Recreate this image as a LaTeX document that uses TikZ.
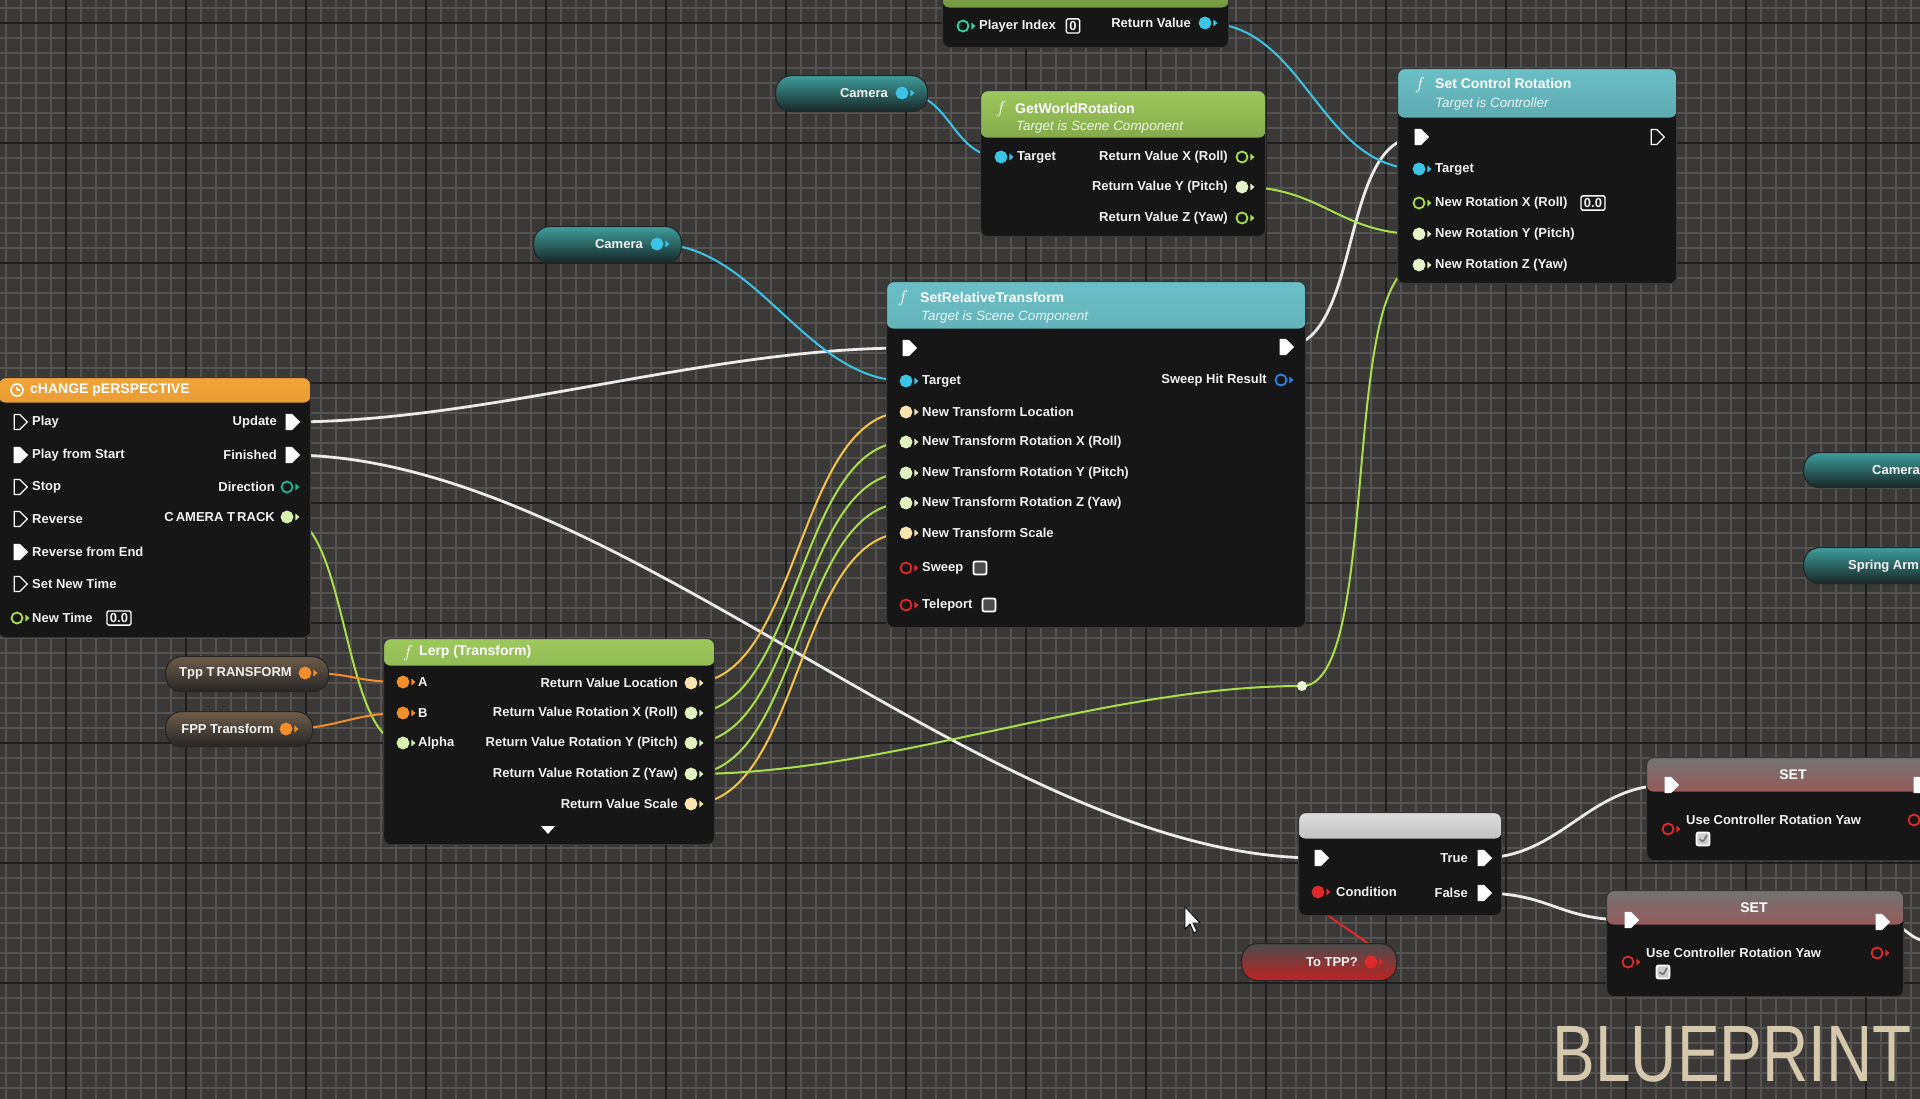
\documentclass[tikz,border=0pt]{standalone}
\usepackage{fontspec}
\setmainfont{Liberation Sans}
\newfontfamily\bpfont[FakeStretch=0.8]{Liberation Sans}
\usetikzlibrary{shapes.symbols}
\pgfdeclarelayer{grid}
\pgfdeclarelayer{wires}
\pgfsetlayers{grid,wires,main}
\definecolor{bggrey}{HTML}{3A3938}
\definecolor{gridfine}{HTML}{55534F}
\definecolor{gridmajor}{HTML}{1E1E1E}
\definecolor{nodebg}{HTML}{161616}
\definecolor{cobj}{HTML}{3CC4E6}
\definecolor{cflt}{HTML}{A9DF4C}
\definecolor{cvec}{HTML}{F3C54A}
\definecolor{ctrf}{HTML}{F28E2B}
\definecolor{cbool}{HTML}{E02A2A}
\definecolor{chit}{HTML}{2C84E4}
\definecolor{cdir}{HTML}{1DB398}
\definecolor{cint}{HTML}{2FD6A2}
\definecolor{hdorange}{HTML}{F29A22}
\definecolor{hdgreen}{HTML}{92C24A}
\definecolor{hdteal}{HTML}{5BB8C0}
\definecolor{hdred}{HTML}{E02828}
\definecolor{camteal}{HTML}{3E9E9C}
\definecolor{vardark}{HTML}{182626}
\definecolor{varbrown}{HTML}{6E5C4A}
\definecolor{bpbeige}{HTML}{D5C8AC}
\tikzset{
  every picture/.style={line width=1pt},
  bnode/.style 2 args={draw=white!22!black, line width=1.2pt, fill=nodebg, rounded corners=7pt,
    anchor=north west, inner sep=0pt,
    path picture={\shade[top color=#1!90!white, bottom color=#1!55!black]
      (path picture bounding box.north west) rectangle ([yshift=-#2pt]path picture bounding box.north east);}},
  setnode/.style={bnode={hdred}{34}, path picture={\shade[top color=black!55, bottom color=hdred]
      (path picture bounding box.north west) rectangle ([yshift=-34pt]path picture bounding box.north east);}},
  varpill/.style 2 args={draw=black!85, line width=1.2pt, rounded corners=16pt, anchor=north west,
    inner sep=0pt, top color=#1, bottom color=#2},
  epin/.style={signal, signal to=east, draw=white, fill=white, line width=1.3pt,
    minimum width=13pt, minimum height=15pt, inner sep=0pt},
  epinoff/.style={epin, fill=nodebg},
  dpin/.style={circle, draw=#1, fill=#1, line width=1.8pt, minimum size=11pt, inner sep=0pt,
    append after command={\pgfextra{\fill[#1] ([xshift=2pt,yshift=3.5pt]\tikzlastnode.east)
      -- ++(4pt,-3.5pt) -- ++(-4pt,-3.5pt) -- cycle;}}},
  dpinoff/.style={dpin=#1, fill=nodebg},
  lbl/.style={font=\fontsize{13}{15}\selectfont\bfseries, text=white!95!black, inner sep=0pt},
  lblin/.style={lbl, anchor=west},
  lblout/.style={lbl, anchor=east},
  ttl/.style={font=\fontsize{14}{16}\selectfont\bfseries, text=white, anchor=west, inner sep=0pt},
  subttl/.style={font=\fontsize{13.5}{15}\selectfont\itshape, text=#1, anchor=west, inner sep=0pt},
  fsym/.style={font=\fontsize{19}{19}\selectfont, text=white, inner sep=0pt},
  valbox/.style={lbl, draw=white, line width=1.3pt, rounded corners=1.5pt, inner xsep=3pt, inner ysep=2.5pt},
  chkbox/.style={draw=white, line width=1.8pt, fill=black!70, rounded corners=2pt, minimum size=13pt, inner sep=0pt},
  chkon/.style={chkbox, fill=white!80!black, path picture={\draw[black!55, line width=1.6pt]
      ([xshift=-3.5pt]path picture bounding box.center) -- ([yshift=-3pt]path picture bounding box.center)
      -- ([xshift=4pt,yshift=4pt]path picture bounding box.center);}},
  clock/.style={circle, draw=white, line width=1.6pt, minimum size=12pt, inner sep=0pt,
    path picture={\draw[white, line width=1.3pt] (path picture bounding box.center) -- ++(0pt,3.5pt)
      (path picture bounding box.center) -- ++(3pt,0pt);}},
  knot/.style={circle, fill=white!75!cflt, minimum size=10pt, inner sep=0pt},
  wire/.style={draw=#1, line width=2pt, line cap=round},
  xwire/.style={wire=white!92!black, line width=2.8pt},
}

\begin{document}
\begin{tikzpicture}[x=1pt, y=-1pt]
  \useasboundingbox (0,0) rectangle (1920,1099);
  \begin{pgfonlayer}{grid}
    \fill[bggrey] (0,0) rectangle (1920,1099);
    \foreach \gx in {6,21,...,1920} \draw[gridfine, line width=1.2pt] (\gx,0) -- (\gx,1099);
    \foreach \gy in {8,23,...,1099} \draw[gridfine, line width=1.2pt] (0,\gy) -- (1920,\gy);
    \foreach \gx in {66,186,...,1920} \draw[gridmajor, line width=1.8pt] (\gx,0) -- (\gx,1099);
    \foreach \gy in {23,143,...,1099} \draw[gridmajor, line width=1.8pt] (0,\gy) -- (1920,\gy);
  \end{pgfonlayer}

  % timeline
  \node[bnode={hdorange}{25}, minimum width=312pt, minimum height=260pt] (tl) at (-2,377) {};
  \node[clock] (tl-icon) at (17,390) {};
  \node[ttl] (tl-t) at (30,390) {cHANGE pERSPECTIVE};
  \node[epinoff] (tl-play) at (17,422) {};
  \node[lblin] (tl-play-l) at (32,422) {Play};
  \node[epin] (tl-pfs) at (17,455) {};
  \node[lblin] (tl-pfs-l) at (32,455) {Play from Start};
  \node[epinoff] (tl-stop) at (17,487) {};
  \node[lblin] (tl-stop-l) at (32,487) {Stop};
  \node[epinoff] (tl-rev) at (17,519) {};
  \node[lblin] (tl-rev-l) at (32,519) {Reverse};
  \node[epin] (tl-rfe) at (17,552) {};
  \node[lblin] (tl-rfe-l) at (32,552) {Reverse from End};
  \node[epinoff] (tl-snt) at (17,584) {};
  \node[lblin] (tl-snt-l) at (32,584) {Set New Time};
  \node[dpinoff=cflt] (tl-nt) at (17,618) {};
  \node[lblin] (tl-nt-l) at (32,618) {New Time};
  \node[valbox] (tl-nt-v) at (119,618) {0.0};
  \node[epin] (tl-upd) at (289,422) {};
  \node[lblout] (tl-upd-l) at (277,422) {Update};
  \node[epin] (tl-fin) at (289,455) {};
  \node[lblout] (tl-fin-l) at (277,455) {Finished};
  \node[dpinoff=cdir] (tl-dir) at (287,487) {};
  \node[lblout] (tl-dir-l) at (275,487) {Direction};
  \node[dpin={cflt!45!white}] (tl-track) at (287,517) {};
  \node[lblout] (tl-track-l) at (275,517) {C\,AMERA T\,RACK};
  \coordinate (tl-in1) at (-20,455);
  \coordinate (tl-in2) at (-20,552);

  % transform variables
  \node[varpill={varbrown}{black!85}, minimum width=163pt, minimum height=35pt] (tpp) at (165,656) {};
  \node[lblout] (tpp-l) at (292,673) {Tpp T\,RANSFORM};
  \node[dpin=ctrf] (tpp-o) at (305,673) {};
  \node[varpill={varbrown}{black!85}, minimum width=147pt, minimum height=35pt] (fpp) at (165,711) {};
  \node[lblout] (fpp-l) at (274,729) {FPP Transform};
  \node[dpin=ctrf] (fpp-o) at (286,729) {};

  % lerp
  \node[bnode={hdgreen}{27}, minimum width=331pt, minimum height=206pt] (lerp) at (383,638) {};
  \node[fsym] (lerp-f) at (408,653) {$f$};
  \node[ttl] (lerp-t) at (419,652) {Lerp (Transform)};
  \node[dpin=ctrf] (lerp-a) at (403,682) {};
  \node[lblin] (lerp-a-l) at (418,682) {A};
  \node[dpin=ctrf] (lerp-b) at (403,713) {};
  \node[lblin] (lerp-b-l) at (418,713) {B};
  \node[dpin={cflt!45!white}] (lerp-alpha) at (403,743) {};
  \node[lblin] (lerp-alpha-l) at (418,743) {Alpha};
  \node[dpin={cvec!45!white}] (lerp-loc) at (691,683) {};
  \node[lblout] (lerp-loc-l) at (678,683) {Return Value Location};
  \node[dpin={cflt!35!white}] (lerp-rx) at (691,713) {};
  \node[lblout] (lerp-rx-l) at (678,713) {Return Value Rotation X (Roll)};
  \node[dpin={cflt!35!white}] (lerp-ry) at (691,743) {};
  \node[lblout] (lerp-ry-l) at (678,743) {Return Value Rotation Y (Pitch)};
  \node[dpin={cflt!35!white}] (lerp-rz) at (691,774) {};
  \node[lblout] (lerp-rz-l) at (678,774) {Return Value Rotation Z (Yaw)};
  \node[dpin={cvec!45!white}] (lerp-scl) at (691,804) {};
  \node[lblout] (lerp-scl-l) at (678,804) {Return Value Scale};
  \fill[white] (541,826) -- (555,826) -- (548,834) -- cycle;

  % camera references
  \node[varpill={camteal}{vardark}, minimum width=148pt, minimum height=36pt] (cam-b) at (533,226) {};
  \node[lblout] (cam-b-l) at (643,244) {Camera};
  \node[dpin=cobj] (cam-b-o) at (657,244) {};
  \node[varpill={camteal}{vardark}, minimum width=152pt, minimum height=36pt] (cam-a) at (775,75) {};
  \node[lblout] (cam-a-l) at (888,93) {Camera};
  \node[dpin=cobj] (cam-a-o) at (902,93) {};
  \node[varpill={camteal}{vardark}, minimum width=160pt, minimum height=35pt] (cam-c) at (1803,452) {};
  \node[lblin] (cam-c-l) at (1872,470) {Camera};
  \node[varpill={camteal}{vardark}, minimum width=160pt, minimum height=36pt] (spring) at (1803,547) {};
  \node[lblin] (spring-l) at (1848,566) {Spring Arm};

  % player controller
  \node[bnode={hdgreen}{47}, minimum width=286pt, minimum height=87pt] (pidx) at (942,-40) {};
  \node[dpinoff=cint] (pidx-in) at (963,26) {};
  \node[lblin] (pidx-in-l) at (979,26) {Player Index};
  \node[valbox] (pidx-v) at (1073,26) {0};
  \node[lblout] (pidx-ret-l) at (1191,23) {Return Value};
  \node[dpin=cobj] (pidx-ret) at (1205,23) {};

  % get world rotation
  \node[bnode={hdgreen}{47}, minimum width=285pt, minimum height=146pt] (gwr) at (980,90) {};
  \node[fsym] (gwr-f) at (1001,109) {$f$};
  \node[ttl] (gwr-t) at (1015,108) {GetWorldRotation};
  \node[subttl=white!85!hdgreen] (gwr-s) at (1016,127) {Target is Scene Component};
  \node[dpin=cobj] (gwr-tgt) at (1001,157) {};
  \node[lblin] (gwr-tgt-l) at (1017,157) {Target};
  \node[dpinoff=cflt] (gwr-x) at (1242,157) {};
  \node[lblout] (gwr-x-l) at (1228,157) {Return Value X (Roll)};
  \node[dpin={cflt!30!white}] (gwr-y) at (1242,187) {};
  \node[lblout] (gwr-y-l) at (1228,187) {Return Value Y (Pitch)};
  \node[dpinoff=cflt] (gwr-z) at (1242,218) {};
  \node[lblout] (gwr-z-l) at (1228,218) {Return Value Z (Yaw)};

  % set control rotation
  \node[bnode={hdteal}{49}, minimum width=279pt, minimum height=215pt] (scr) at (1397,68) {};
  \node[fsym] (scr-f) at (1420,85) {$f$};
  \node[ttl] (scr-t) at (1435,83) {Set Control Rotation};
  \node[subttl=white!85!hdteal] (scr-s) at (1435,104) {Target is Controller};
  \node[epin] (scr-ein) at (1418,137) {};
  \node[epinoff] (scr-eout) at (1654,137) {};
  \node[dpin=cobj] (scr-tgt) at (1419,169) {};
  \node[lblin] (scr-tgt-l) at (1435,169) {Target};
  \node[dpinoff=cflt] (scr-x) at (1419,203) {};
  \node[lblin] (scr-x-l) at (1435,203) {New Rotation X (Roll)};
  \node[valbox] (scr-x-v) at (1593,203) {0.0};
  \node[dpin={cflt!30!white}] (scr-y) at (1419,234) {};
  \node[lblin] (scr-y-l) at (1435,234) {New Rotation Y (Pitch)};
  \node[dpin={cflt!30!white}] (scr-z) at (1419,265) {};
  \node[lblin] (scr-z-l) at (1435,265) {New Rotation Z (Yaw)};

  % set relative transform
  \node[bnode={hdteal}{47}, minimum width=419pt, minimum height=346pt] (srt) at (886,281) {};
  \node[fsym] (srt-f) at (903,298) {$f$};
  \node[ttl] (srt-t) at (920,297) {SetRelativeTransform};
  \node[subttl=white!85!hdteal] (srt-s) at (921,317) {Target is Scene Component};
  \node[epin] (srt-ein) at (906,348) {};
  \node[epin] (srt-eout) at (1283,347) {};
  \node[dpin=cobj] (srt-tgt) at (906,381) {};
  \node[lblin] (srt-tgt-l) at (922,381) {Target};
  \node[dpinoff=chit] (srt-hit) at (1281,380) {};
  \node[lblout] (srt-hit-l) at (1267,380) {Sweep Hit Result};
  \node[dpin={cvec!45!white}] (srt-loc) at (906,412) {};
  \node[lblin] (srt-loc-l) at (922,412) {New Transform Location};
  \node[dpin={cflt!35!white}] (srt-rx) at (906,442) {};
  \node[lblin] (srt-rx-l) at (922,442) {New Transform Rotation X (Roll)};
  \node[dpin={cflt!35!white}] (srt-ry) at (906,473) {};
  \node[lblin] (srt-ry-l) at (922,473) {New Transform Rotation Y (Pitch)};
  \node[dpin={cflt!35!white}] (srt-rz) at (906,503) {};
  \node[lblin] (srt-rz-l) at (922,503) {New Transform Rotation Z (Yaw)};
  \node[dpin={cvec!45!white}] (srt-scl) at (906,533) {};
  \node[lblin] (srt-scl-l) at (922,533) {New Transform Scale};
  \node[dpinoff=cbool] (srt-swp) at (906,568) {};
  \node[lblin] (srt-swp-l) at (922,568) {Sweep};
  \node[chkbox] (srt-swp-c) at (980,568) {};
  \node[dpinoff=cbool] (srt-tel) at (906,605) {};
  \node[lblin] (srt-tel-l) at (922,605) {Teleport};
  \node[chkbox] (srt-tel-c) at (989,605) {};

  % branch
  \node[bnode={white!85!black}{26}, minimum width=203pt, minimum height=103pt] (br) at (1298,812) {};
  \node[epin] (br-ein) at (1318,858) {};
  \node[epin] (br-true) at (1481,858) {};
  \node[lblout] (br-true-l) at (1468,858) {True};
  \node[dpin=cbool] (br-cond) at (1318,892) {};
  \node[lblin] (br-cond-l) at (1336,892) {Condition};
  \node[epin] (br-false) at (1481,893) {};
  \node[lblout] (br-false-l) at (1468,893) {False};
  \node[varpill={black!70}{hdred!85!black}, minimum width=155pt, minimum height=37pt] (totpp) at (1241,943) {};
  \node[lblout] (totpp-l) at (1358,962) {To TPP?};
  \node[dpin=cbool] (totpp-o) at (1371,962) {};

  % set nodes
  \node[setnode, minimum width=300pt, minimum height=103pt] (seta) at (1646,757) {};
  \node[ttl, anchor=center] (seta-t) at (1793,775) {SET};
  \node[epin] (seta-ein) at (1668,785) {};
  \node[epin] (seta-eout) at (1917,785) {};
  \node[lblin] (seta-l) at (1686,820) {Use Controller Rotation Yaw};
  \node[dpinoff=cbool] (seta-in) at (1668,829) {};
  \node[chkon] (seta-c) at (1703,839) {};
  \node[dpinoff=cbool] (seta-out) at (1914,820) {};
  \node[setnode, minimum width=297pt, minimum height=106pt] (setb) at (1606,890) {};
  \node[ttl, anchor=center] (setb-t) at (1754,908) {SET};
  \node[epin] (setb-ein) at (1628,920) {};
  \node[epin] (setb-eout) at (1879,922) {};
  \node[lblin] (setb-l) at (1646,953) {Use Controller Rotation Yaw};
  \node[dpinoff=cbool] (setb-in) at (1628,962) {};
  \node[chkon] (setb-c) at (1663,972) {};
  \node[dpinoff=cbool] (setb-out) at (1877,953) {};
  \coordinate (setb-off) at (1935,942);

  \node[knot] (knot) at (1302,686) {};
  \node[font=\bpfont\fontsize{80}{80}\selectfont, text=bpbeige, anchor=south east, inner sep=0pt] (wm) at (1912,1082) {BLUEPRINT};
  \fill[white, draw=black, line width=0.8pt] (1185,907) -- (1185,929) -- (1190,924) -- (1194,933)
    -- (1197,931) -- (1193,923) -- (1200,923) -- cycle;

  \begin{pgfonlayer}{wires}
    \draw[xwire] (tl-in1) -- (tl-pfs.center);
    \draw[xwire] (tl-in2) -- (tl-rfe.center);
    \draw[xwire] (tl-upd.center) .. controls +(200,0) and +(-200,0) .. (srt-ein.center);
    \draw[xwire] (tl-fin.center) .. controls +(330,0) and +(-330,0) .. (br-ein.center);
    \draw[xwire] (srt-eout.center) .. controls +(80,0) and +(-80,0) .. (scr-ein.center);
    \draw[xwire] (br-true.center) .. controls +(80,0) and +(-80,0) .. (seta-ein.center);
    \draw[xwire] (br-false.center) .. controls +(70,0) and +(-70,0) .. (setb-ein.center);
    \draw[xwire] (setb-eout.center) .. controls +(30,0) and +(-30,0) .. (setb-off);
    \draw[wire=cobj] (cam-a-o.center) .. controls +(50,0) and +(-50,0) .. (gwr-tgt.center);
    \draw[wire=cobj] (cam-b-o.center) .. controls +(100,0) and +(-100,0) .. (srt-tgt.center);
    \draw[wire=cobj] (pidx-ret.center) .. controls +(100,0) and +(-100,0) .. (scr-tgt.center);
    \draw[wire=cflt] (gwr-y.center) .. controls +(80,0) and +(-80,0) .. (scr-y.center);
    \draw[wire=cflt] (tl-track.center) .. controls +(60,0) and +(-60,0) .. (lerp-alpha.center);
    \draw[wire=ctrf] (tpp-o.center) .. controls +(50,0) and +(-50,0) .. (lerp-a.center);
    \draw[wire=ctrf] (fpp-o.center) .. controls +(50,0) and +(-50,0) .. (lerp-b.center);
    \draw[wire=cvec] (lerp-loc.center) .. controls +(110,0) and +(-110,0) .. (srt-loc.center);
    \draw[wire=cflt] (lerp-rx.center) .. controls +(110,0) and +(-110,0) .. (srt-rx.center);
    \draw[wire=cflt] (lerp-ry.center) .. controls +(110,0) and +(-110,0) .. (srt-ry.center);
    \draw[wire=cflt] (lerp-rz.center) .. controls +(110,0) and +(-110,0) .. (srt-rz.center);
    \draw[wire=cvec] (lerp-scl.center) .. controls +(110,0) and +(-110,0) .. (srt-scl.center);
    \draw[wire=cflt] (lerp-rz.center) .. controls +(200,0) and +(-200,0) .. (knot.center);
    \draw[wire=cflt] (knot.center) .. controls +(80,0) and +(-80,0) .. (scr-z.center);
    \draw[wire=cbool] (totpp-o.center) .. controls +(50,0) and +(-50,0) .. (br-cond.center);
  \end{pgfonlayer}
\end{tikzpicture}
\end{document}
